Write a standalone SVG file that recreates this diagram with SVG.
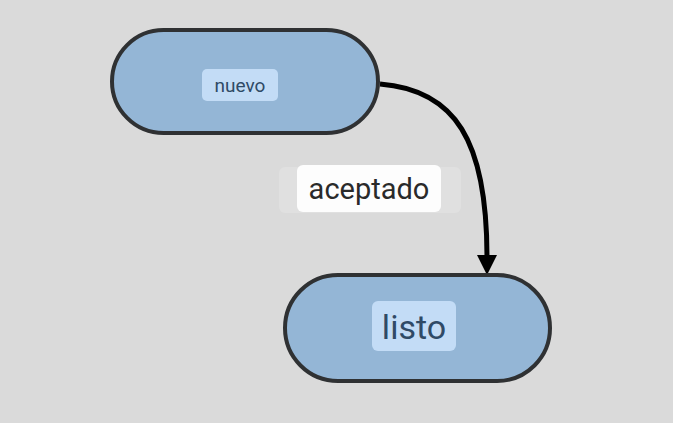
<svg xmlns="http://www.w3.org/2000/svg" width="673" height="423" viewBox="0 0 673 423">
  <defs>
    <marker id="arrow" viewBox="0 0 10 10" refX="1" refY="5" markerWidth="4" markerHeight="4" markerUnits="strokeWidth" orient="auto">
      <path d="M0,0 L10,5 L0,10 z" fill="#000"/>
    </marker>
  </defs>
  <style>
    .state { fill: #94b6d6; stroke: #2f3133; stroke-width: 4; }
    .tag { fill: #c3dcf6; }
    .tag-text { font-family: Roboto, "Liberation Sans", sans-serif; fill: #2f4a66; text-anchor: middle; }
    .edge { fill: none; stroke: #000; stroke-width: 5; }
    .edge-label { font-family: Roboto, "Liberation Sans", sans-serif; font-size: 29px; fill: #2a2a2a; text-anchor: middle; }
  </style>
  <rect width="673" height="423" fill="#dadada"/>

  <g id="connectors">
    <path class="edge" d="M380,84 C455,90 487,140 487,257" marker-end="url(#arrow)"/>
    <rect x="279" y="167" width="182" height="46" rx="6" fill="#e0e0e0"/>
    <rect x="297" y="165" width="144" height="47" rx="6" fill="#fdfdfd"/>
    <text class="edge-label" x="369" y="199">aceptado</text>
  </g>

  <g id="nuevo">
    <rect class="state" x="112" y="30" width="266" height="103" rx="51.5"/>
    <rect class="tag" x="202" y="69" width="76" height="32" rx="5"/>
    <text class="tag-text" x="240" y="92" font-size="19">nuevo</text>
  </g>

  <g id="listo">
    <rect class="state" x="285" y="275" width="265" height="106" rx="53"/>
    <rect class="tag" x="372" y="301" width="84" height="50" rx="6"/>
    <text class="tag-text" x="414" y="339" font-size="34">listo</text>
  </g>
</svg>
